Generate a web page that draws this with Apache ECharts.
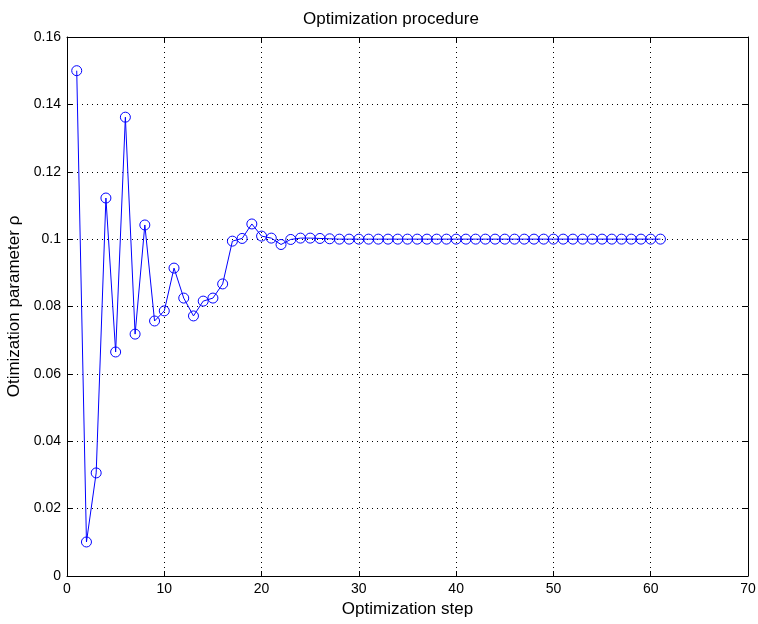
<!DOCTYPE html>
<html><head><meta charset="utf-8">
<script src="https://cdn.jsdelivr.net/npm/echarts@6/dist/echarts.min.js"></script>
<style>html,body{margin:0;padding:0;background:#fff}#c{width:758px;height:624px}</style>
</head><body><div id="c"></div>
<script>
const steps = [];
for (let i = 1; i <= 61; i++) steps.push(i);
const rho = [0.150,0.0101,0.0306,0.1122,0.0665,0.1362,0.0718,0.1042,0.0757,0.0787,
0.0914,0.0825,0.0772,0.0816,0.0825,0.0867,0.0994,0.1002,0.1045,0.1009,
0.1003,0.0984,0.0999,0.1003,0.1003,0.1002,0.1001,0.1000,0.1000,0.1000,
0.1000,0.1000,0.1000,0.1000,0.1000,0.1000,0.1000,0.1000,0.1000,0.1000,
0.1000,0.1000,0.1000,0.1000,0.1000,0.1000,0.1000,0.1000,0.1000,0.1000,
0.1000,0.1000,0.1000,0.1000,0.1000,0.1000,0.1000,0.1000,0.1000,0.1000,0.1000];
const xTicks = [0,10,20,30,40,50,60,70];
const yTicks = [0,0.02,0.04,0.06,0.08,0.1,0.12,0.14,0.16];
const titleText = 'Optimization procedure';
const xName = 'Optimization step';
const yName = 'Otimization parameter ρ';

const font = 'Liberation Sans, Arial, sans-serif';
const chart = echarts.init(document.getElementById('c'), null, {renderer:'canvas'});
const split = {show:true, lineStyle:{color:'#000', type:[1,4], width:1}};
const line = {show:true, onZero:false, lineStyle:{color:'#000', width:1}};
const tick = {show:true, inside:true, length:5, lineStyle:{color:'#000'}};
chart.setOption({
  animation:false,
  title:{text:titleText, left:386, textAlign:'center', top:6, textStyle:{fontFamily:font, fontSize:17, fontWeight:'normal', color:'#000'}},
  grid:{left:67, right:10, top:37, bottom:48, containLabel:false, outerBoundsMode:'none'},
  xAxis:[{type:'value', min:xTicks[0], max:xTicks[xTicks.length-1], interval:10, name:xName, nameLocation:'middle', nameGap:24,
    nameTextStyle:{fontFamily:font, fontSize:17, color:'#000'},
    axisLine:line, axisTick:tick, splitLine:split,
    axisLabel:{fontFamily:font, fontSize:14, color:'#000', margin:6}},
   {type:'value', position:'top', min:0, max:70, interval:10, axisLine:line, axisTick:tick, axisLabel:{show:false}, splitLine:{show:false}}],
  yAxis:[{type:'value', min:yTicks[0], max:yTicks[yTicks.length-1], interval:0.02, name:yName, nameLocation:'middle', nameGap:38,
    nameTextStyle:{fontFamily:font, fontSize:17, color:'#000'},
    axisLine:line, axisTick:tick, splitLine:split,
    axisLabel:{fontFamily:font, fontSize:14, color:'#000', margin:6,
      formatter:v=>String(+v.toFixed(2))}},
   {type:'value', position:'right', min:0, max:0.16, interval:0.02, axisLine:line, axisTick:tick, axisLabel:{show:false}, splitLine:{show:false}}],
  series:[{type:'line', data:steps.map((s,i)=>[s,rho[i]]), symbol:'circle', symbolSize:10,
    showAllSymbol:true,
    lineStyle:{color:'#0000ff', width:1},
    itemStyle:{color:'rgba(0,0,0,0)', borderColor:'#0000ff', borderWidth:1}}]
});
</script></body></html>
